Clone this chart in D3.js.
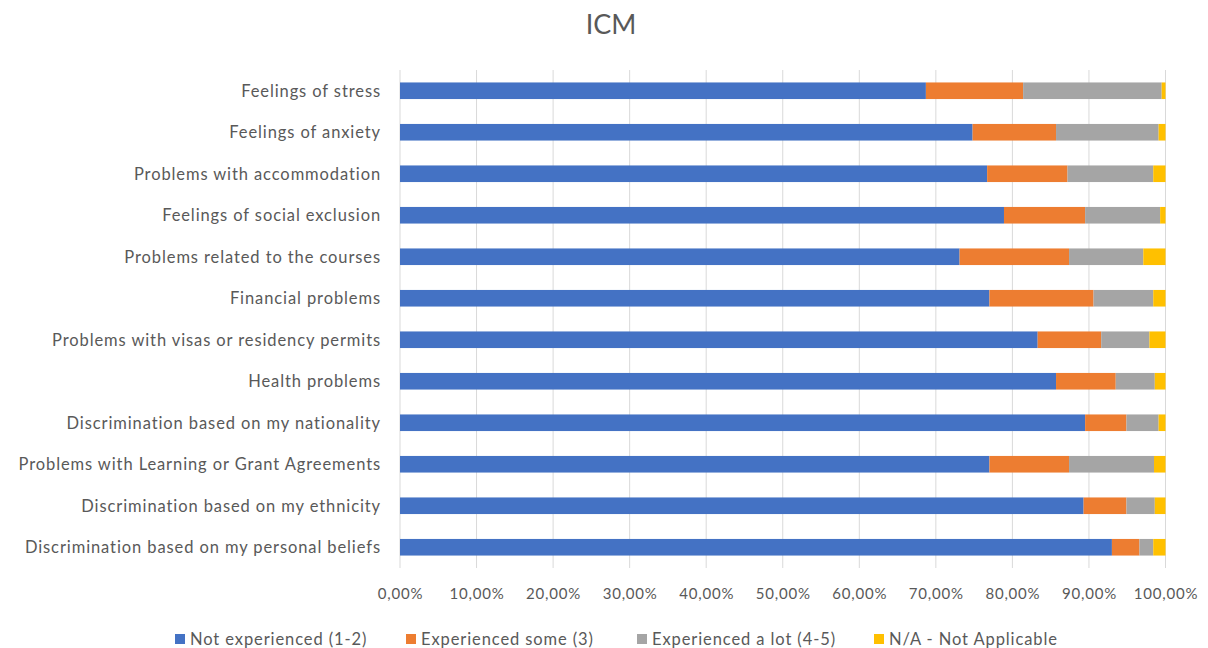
<!DOCTYPE html>
<html>
<head>
<meta charset="utf-8">
<script src="https://cdn.jsdelivr.net/npm/d3@7"></script>
<style>
  body { margin: 0; background: #fff; }
  svg text { font-family: Lato, "Open Sans", sans-serif; fill: #595959; }
</style>
</head>
<body>
<svg id="chart" width="1208" height="648"></svg>
<script>
// values, in percent
const categories = [
  'Feelings of stress',
  'Feelings of anxiety',
  'Problems with accommodation',
  'Feelings of social exclusion',
  'Problems related to the courses',
  'Financial problems',
  'Problems with visas or residency permits',
  'Health problems',
  'Discrimination based on my nationality',
  'Problems with Learning or Grant Agreements',
  'Discrimination based on my ethnicity',
  'Discrimination based on my personal beliefs'
];
const notExperienced = [68.7, 74.8, 76.7, 78.9, 73.1, 77.0, 83.3, 85.7, 89.5, 77.0, 89.3, 93.0];
const experiencedSome = [12.7, 10.9, 10.5, 10.6, 14.3, 13.6, 8.3, 7.8, 5.4, 10.4, 5.6, 3.6];
const experiencedLot = [18.1, 13.4, 11.2, 9.8, 9.7, 7.8, 6.3, 5.1, 4.2, 11.1, 3.7, 1.8];
const notApplicable = [0.5, 0.9, 1.6, 0.7, 2.9, 1.6, 2.1, 1.4, 0.9, 1.5, 1.4, 1.6];
const seriesNames = ['Not experienced (1-2)', 'Experienced some (3)', 'Experienced a lot (4-5)', 'N/A - Not Applicable'];
const tickValues = [0, 10, 20, 30, 40, 50, 60, 70, 80, 90, 100];

const colors = ['#4472C4', '#ED7D31', '#A5A5A5', '#FFC000'];

const svg = d3.select('#chart');
const margin = {left: 400, right: 1165.5, top: 70, bottom: 568};

const rows = categories.map((c, i) => ({
  key: c,
  0: notExperienced[i], 1: experiencedSome[i], 2: experiencedLot[i], 3: notApplicable[i]
}));
const stacked = d3.stack().keys([0, 1, 2, 3])(rows);

const x = d3.scaleLinear().domain([0, 100]).range([margin.left, margin.right]);
const y = d3.scaleBand().domain(categories).range([margin.top, margin.bottom]).paddingInner(0.6).paddingOuter(0.3);

// title
svg.append('text')
  .attr('x', 611).attr('y', 34)
  .attr('text-anchor', 'middle')
  .style('font-size', '27px')
  .text('ICM');

// gridlines
svg.append('g')
  .selectAll('line')
  .data(tickValues)
  .join('line')
    .attr('x1', d => x(d)).attr('x2', d => x(d))
    .attr('y1', margin.top).attr('y2', margin.bottom)
    .attr('stroke', '#d9d9d9')
    .attr('stroke-width', 1);

// bars
svg.append('g')
  .selectAll('g')
  .data(stacked)
  .join('g')
    .attr('fill', (d, i) => colors[i])
  .selectAll('rect')
  .data(d => d)
  .join('rect')
    .attr('x', d => x(d[0]))
    .attr('width', d => x(d[1]) - x(d[0]))
    .attr('y', d => y(d.data.key))
    .attr('height', y.bandwidth());

// category labels
svg.append('g')
  .selectAll('text')
  .data(categories)
  .join('text')
    .attr('x', 381)
    .attr('y', d => y(d) + y.bandwidth() / 2)
    .attr('dy', '0.35em')
    .attr('text-anchor', 'end')
    .style('font-size', '16.5px')
    .style('letter-spacing', '0.9px')
    .text(d => d);

// x axis
const fmt = d => d3.format('.2f')(d).replace('.', ',') + '%';
const xAxis = svg.append('g')
  .attr('transform', `translate(0,${margin.bottom})`)
  .call(d3.axisBottom(x).tickValues(tickValues).tickFormat(fmt).tickSize(0).tickPadding(20));
xAxis.select('.domain').remove();
xAxis.selectAll('text')
  .style('font-size', '15px')
  .style('letter-spacing', '0.8px')
  .style('font-family', 'Lato, "Open Sans", sans-serif')
  .attr('fill', '#595959');

// legend
const legendX = [175, 406, 637, 874];
const legend = svg.append('g')
  .selectAll('g')
  .data(seriesNames)
  .join('g')
    .attr('transform', (d, i) => `translate(${legendX[i]},639)`);
legend.append('rect')
  .attr('y', -5).attr('width', 10).attr('height', 10)
  .attr('fill', (d, i) => colors[i]);
legend.append('text')
  .attr('x', 15)
  .attr('dy', '0.35em')
  .style('font-size', '16.5px')
  .style('letter-spacing', '0.9px')
  .text(d => d);
</script>
</body>
</html>
